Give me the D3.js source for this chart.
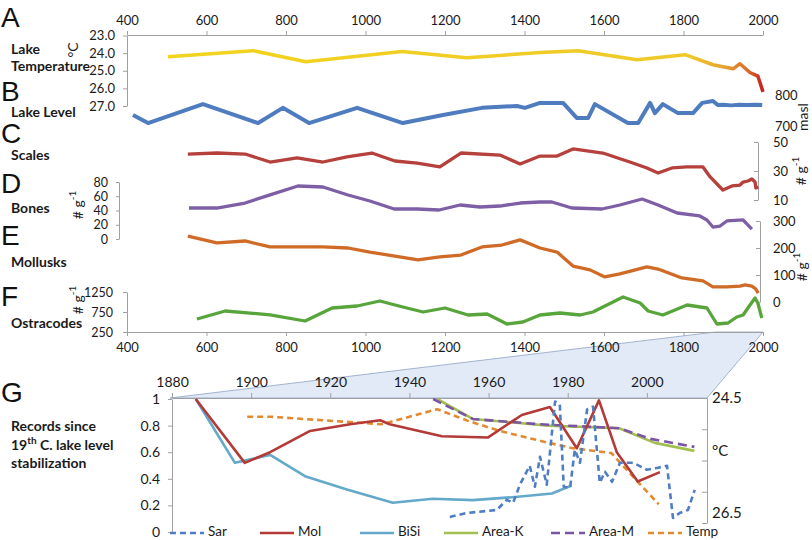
<!DOCTYPE html>
<html><head><meta charset="utf-8">
<script src="https://cdn.jsdelivr.net/npm/d3@7"></script>
<style>body{margin:0;background:#fff} svg{display:block}</style>
</head><body><svg id="c" width="812" height="540"></svg>
<script>
// ---------- DATA ----------
const topTicks = [400,600,800,1000,1200,1400,1600,1800,2000];
const tempYears = [503,717,850,1092,1255,1439,1535,1683,1804,1874,1925,1942,1967,1987,2000];
const tempVals  = [24.2,23.86,24.49,23.91,24.26,23.97,23.86,24.37,24.09,24.66,24.89,24.6,25.1,25.3,26.2];
const tempTicks = [23,24,25,26,27];

const levelYears = [415,453,591,730,792,858,979,1094,1195,1293,1381,1401,1439,1497,1532,1560,1577,1660,1686,1716,1728,1748,1786,1824,1847,1874,1887,1900,1920,1940,1960,1980,1998];
const levelVals  = [742,716,777,716,765,716,765,716,742,765,771,765,781,781,732,732,777,716,716,781,748,777,748,748,781,787,774,775,773,775,774,775,774];
const levelTicks = [700,800];

const scalesYears = [553,626,697,760,828,893,953,1016,1074,1130,1187,1240,1338,1389,1439,1482,1522,1597,1665,1708,1736,1771,1809,1849,1867,1899,1922,1942,1950,1962,1972,1980,1982,1988];
const scalesVals  = [41.7,42.4,41.7,36.2,39,36.2,39.7,42.4,36.9,35.5,32.8,42.4,41,34.8,40.3,40.3,45.2,42.4,36.2,32.1,28.6,32.1,32.8,32.8,25.9,16.9,19.7,20.3,22.4,23.1,24.5,22.4,18.3,19];
const scalesTicks = [10,30,50];

const bonesYears = [556,626,697,760,830,893,956,1011,1072,1130,1185,1238,1288,1338,1389,1439,1469,1519,1595,1640,1696,1736,1784,1841,1859,1874,1892,1909,1950,1960,1972];
const bonesVals  = [43.5,43.5,50.5,62,74.4,73,61.8,53.3,42.1,42.1,40.7,47.7,44.9,46.3,50.5,51.9,51.9,43.5,42.1,47.7,56.1,47.7,36.5,32.3,26.7,16.8,18.2,25.3,26.7,21,14];
const bonesTicks = [0,20,40,60,80];

const molluskYears = [553,626,697,760,828,893,956,1011,1074,1132,1187,1240,1293,1343,1389,1439,1482,1522,1565,1602,1640,1708,1736,1796,1849,1874,1909,1942,1955,1972,1982,1988];
const molluskVals  = [244,219,226,204,204,204,200,185,170,156,167,174,204,211,230,200,185,133,119,93,104,130,122,89,78,56,56,59,63,59,48,33];
const molluskTicks = [0,100,200,300];

const ostraYears = [576,647,760,848,916,979,1036,1094,1145,1200,1258,1306,1356,1396,1439,1489,1540,1572,1648,1691,1711,1748,1809,1859,1884,1912,1934,1950,1962,1980,1987,1997];
const ostraVals  = [575,775,680,525,850,900,1025,875,750,850,675,700,450,500,675,725,675,750,1125,975,775,675,925,850,450,475,625,675,850,1100,975,600];
const ostraTicks = [250,750,1250];

// Panel G
const gTicksX = [1880,1900,1920,1940,1960,1980,2000];
const gTicksL = [0,0.2,0.4,0.6,0.8,1];
const gTicksR = [24.5,25,25.5,26,26.5];
const sarYears = [1950.2,1954.5,1962.1,1964.6,1966.2,1967.9,1970.4,1971.7,1973.0,1974.7,1976.8,1978.0,1979.0,1980.6,1981.8,1983.1,1984.9,1986.4,1988.1,1989.4,1991.2,1993.2,1996.5,2000.0,2002.8,2005.1,2006.6,2008.3,2010.4,2012.1];
const sarVals  = [0.113,0.143,0.166,0.242,0.219,0.355,0.498,0.34,0.566,0.355,0.981,0.958,0.34,0.332,0.619,0.521,0.921,0.943,0.37,0.453,0.377,0.521,0.521,0.468,0.483,0.498,0.106,0.143,0.166,0.317];
const molYears = [1886,1898.4,1904.8,1914.9,1925,1932.6,1935,1948.2,1959.8,1968.4,1975.5,1982.3,1987.9,1992.4,1997.7,2003.3];
const molVals  = [1,0.52,0.6,0.76,0.81,0.84,0.81,0.72,0.71,0.88,0.94,0.63,0.99,0.6,0.38,0.45];
const bisiYears = [1886,1895.9,1904.8,1913.6,1924.2,1935.8,1945.9,1956,1965.4,1976,1981];
const bisiVals  = [1,0.52,0.58,0.42,0.32,0.22,0.25,0.24,0.26,0.29,0.35];
const areaKYears = [1947,1956,1975,1993,2002,2012];
const areaKVals  = [1,0.85,0.8,0.78,0.67,0.61];
const areaMYears = [1946,1956,1973,1993,2001,2012];
const areaMVals  = [1,0.85,0.81,0.78,0.7,0.64];
const gTempYears = [1899,1905,1933,1947,1955,1963,1974,1981,1991,1998,2003];
const gTempVals  = [24.8,24.8,24.92,24.68,24.87,25.03,25.2,25.3,25.38,25.86,26.2];
const legendNames = ["Sar","Mol","BiSi","Area-K","Area-M","Temp"];

// ---------- DRAW ----------
const svg = d3.select('#c');
const FONT = "Lato, 'Open Sans', sans-serif";
const AX = '#a0a0a0';
const zip = (a,b) => a.map((v,i)=>[v,b[i]]);

const x = d3.scaleLinear().domain([400,2000]).range([127,763]);
const xG = d3.scaleLinear().domain([1880,2015.2]).range([172,707]);

// zoom trapezoid
svg.append('polygon')
  .attr('points', [[x(1880),332],[x(2000),332],[xG(2015.2),398],[xG(1880)-2,398]].map(p=>p.join(',')).join(' '))
  .attr('fill','#e1eaf6').attr('stroke','#8fa3c4').attr('stroke-width',0.8);

function styleAxis(g, fs){
  g.attr('font-family', FONT).attr('font-size', fs||13);
  g.selectAll('path.domain').attr('stroke', AX);
  g.selectAll('.tick line').attr('stroke', AX);
  g.selectAll('.tick text').attr('fill','#1a1a1a');
  return g;
}
function drawLine(xs, ys, xsArr, ysArr, color, w, dash){
  const p = svg.append('path').datum(zip(xsArr, ysArr))
    .attr('fill','none').attr('stroke',color).attr('stroke-width',w)
    .attr('stroke-linejoin','round')
    .attr('d', d3.line().x(d=>xs(d[0])).y(d=>ys(d[1])));
  if (dash) p.attr('stroke-dasharray', dash);
  return p;
}
function rotLabel(cx, cy, txt, sup){
  const t = svg.append('text').attr('transform',`translate(${cx},${cy}) rotate(-90)`)
    .attr('text-anchor','middle').attr('dominant-baseline','middle')
    .attr('font-family',FONT).attr('font-size',14).attr('fill','#1a1a1a').text(txt);
  if (sup) t.append('tspan').attr('font-size',10).attr('dy',-6).text(sup);
}
const fmtD = d3.format('d');

// top axis & bottom axis
styleAxis(svg.append('g').attr('transform','translate(0,35)')
  .call(d3.axisTop(x).tickValues(topTicks).tickSize(4).tickSizeOuter(0).tickPadding(6).tickFormat(fmtD)));
styleAxis(svg.append('g').attr('transform','translate(0,332)')
  .call(d3.axisBottom(x).tickValues(topTicks).tickSize(4).tickSizeOuter(0).tickPadding(7).tickFormat(fmtD)));

// A temperature
const yA = d3.scaleLinear().domain([23,27]).range([35.5,106]);
styleAxis(svg.append('g').attr('transform','translate(127,0)')
  .call(d3.axisLeft(yA).tickValues(tempTicks).tickSize(4).tickSizeOuter(0).tickPadding(8).tickFormat(d3.format('.1f'))));
const grad = svg.append('defs').append('linearGradient').attr('id','tg')
  .attr('gradientUnits','userSpaceOnUse').attr('x1',x(400)).attr('x2',x(2000)).attr('y1',0).attr('y2',0);
[[0,'#f3d51c'],[(1820-400)/1600,'#efc82a'],[(1900-400)/1600,'#e6a233'],[(1960-400)/1600,'#dc6f2a'],[1,'#c41f1f']]
  .forEach(s=>grad.append('stop').attr('offset',s[0]).attr('stop-color',s[1]));
drawLine(x, yA, tempYears, tempVals, 'url(#tg)', 3.5);
rotLabel(74, 50, '°C');

// B lake level
const yB = d3.scaleLinear().domain([700,800]).range([128,97]);
drawLine(x, yB, levelYears, levelVals, '#4f7bbf', 4);
levelTicks.forEach(v=>svg.append('text').attr('x',775).attr('y',yB(v)).attr('dominant-baseline','middle')
  .attr('font-family',FONT).attr('font-size',13).attr('fill','#1a1a1a').text(v));
rotLabel(804, 117, 'masl');

// C scales
const yC = d3.scaleLinear().domain([10,50]).range([200,142]);
styleAxis(svg.append('g').attr('transform','translate(758,0)')
  .call(d3.axisRight(yC).tickValues(scalesTicks).tickSize(-4).tickSizeOuter(0).tickPadding(15).tickFormat(fmtD)));
drawLine(x, yC, scalesYears, scalesVals, '#b5403c', 3.3);
rotLabel(802, 171, '# g', '-1');

// D bones
const yD = d3.scaleLinear().domain([0,80]).range([239,182]);
styleAxis(svg.append('g').attr('transform','translate(119,0)')
  .call(d3.axisLeft(yD).tickValues(bonesTicks).tickSize(3).tickSizeOuter(0).tickPadding(8).tickFormat(fmtD)), 12.5);
drawLine(x, yD, bonesYears, bonesVals, '#7e5fa6', 3.3);
rotLabel(79, 205, '# g', '-1');

// E mollusks
const yE = d3.scaleLinear().domain([0,300]).range([302,221]);
styleAxis(svg.append('g').attr('transform','translate(760,0)')
  .call(d3.axisRight(yE).tickValues(molluskTicks).tickSize(-4).tickSizeOuter(0).tickPadding(13).tickFormat(fmtD)));
drawLine(x, yE, molluskYears, molluskVals, '#d06b27', 3.3);
rotLabel(803, 267, '# g', '-1');

// F ostracodes
const yF = d3.scaleLinear().domain([250,1250]).range([332,292]);
styleAxis(svg.append('g').attr('transform','translate(127,0)')
  .call(d3.axisLeft(yF).tickValues(ostraTicks).tickSize(4).tickSizeOuter(0).tickPadding(10).tickFormat(fmtD)), 12.5);
drawLine(x, yF, ostraYears, ostraVals, '#58a53c', 3.3);
rotLabel(79, 300, '# g', '-1');

// ---------- G ----------
const yGL = d3.scaleLinear().domain([0,1]).range([532,399]);
const yGR = d3.scaleLinear().domain([24.5,26.5]).range([398,523]);
styleAxis(svg.append('g').attr('transform','translate(0,398)')
  .call(d3.axisTop(xG).tickValues(gTicksX).tickSize(5).tickSizeOuter(0).tickPadding(6).tickFormat(fmtD)), 14);
styleAxis(svg.append('g').attr('transform','translate(172,0)')
  .call(d3.axisLeft(yGL).tickValues(gTicksL).tickSize(4).tickSizeOuter(0).tickPadding(8).tickFormat(d=>d===0||d===1?fmtD(d):d3.format('.1f')(d))), 14);
const gR = styleAxis(svg.append('g').attr('transform','translate(707,0)')
  .call(d3.axisRight(yGR).tickValues(gTicksR).tickSize(-5).tickSizeOuter(0).tickPadding(5)
  .tickFormat(d=>(d===24.5||d===26.5)?d3.format('.1f')(d):'')), 15);
gR.selectAll('.tick text').filter(d=>d===26.5).attr('dy','-0.35em');
svg.append('text').attr('x',712).attr('y',452).attr('dominant-baseline','middle')
  .attr('font-family',FONT).attr('font-size',15).attr('fill','#1a1a1a').text('°C');

const gSeries = [
  {name:'Sar', xs:sarYears, ys:sarVals, yS:yGL, c:'#4f7ec3', dash:'6,4'},
  {name:'Mol', xs:molYears, ys:molVals, yS:yGL, c:'#b33a36'},
  {name:'BiSi', xs:bisiYears, ys:bisiVals, yS:yGL, c:'#64a9c9'},
  {name:'Area-K', xs:areaKYears, ys:areaKVals, yS:yGL, c:'#a2bf50'},
  {name:'Area-M', xs:areaMYears, ys:areaMVals, yS:yGL, c:'#7b55a3', dash:'9,5'},
  {name:'Temp', xs:gTempYears, ys:gTempVals, yS:yGR, c:'#e38a2e', dash:'6,4'}
];
const drawOrder = ['BiSi','Temp','Area-K','Area-M','Mol','Sar'];
drawOrder.forEach(n=>{const s=gSeries.find(d=>d.name===n); drawLine(xG, s.yS, s.xs, s.ys, s.c, 2.6, s.dash);});

// legend
const legX = [170,260,360,444,551,648];
legendNames.forEach((n,i)=>{
  const s = gSeries.find(d=>d.name===n);
  const l = svg.append('line').attr('x1',legX[i]).attr('x2',legX[i]+34).attr('y1',533).attr('y2',533)
    .attr('stroke',s.c).attr('stroke-width',2.6);
  if (s.dash) l.attr('stroke-dasharray', s.dash);
  svg.append('text').attr('x',legX[i]+38).attr('y',533).attr('dominant-baseline','middle')
    .attr('font-family',FONT).attr('font-size',13.5).attr('fill','#1a1a1a').text(n);
});

// panel letters
const letters = [['A',27],['B',101],['C',143],['D',193],['E',245],['F',306],['G',402]];
letters.forEach(l=>svg.append('text').attr('x',1).attr('y',l[1]).text(l[0])
  .attr('font-family',"'Liberation Sans', Arial, sans-serif").attr('font-size',28).attr('fill','#111'));

// side labels
const side = [['Lake',54],['Temperature',71],['Lake Level',117],['Scales',160],['Bones',213],['Mollusks',267],['Ostracodes',328],
  ['Records since',431],['19|th| C. lake level',450],['stabilization',468]];
side.forEach(s=>{
  const t = svg.append('text').attr('x',11).attr('y',s[1]).attr('font-family',FONT)
    .attr('font-weight','bold').attr('font-size',14).attr('fill','#1a1a1a');
  const parts = s[0].split('|');
  if (parts.length===1) t.text(s[0]);
  else { t.append('tspan').text(parts[0]); t.append('tspan').attr('font-size',10).attr('dy',-6).text(parts[1]);
         t.append('tspan').attr('dy',6).text(parts[2]); }
});
</script></body></html>
